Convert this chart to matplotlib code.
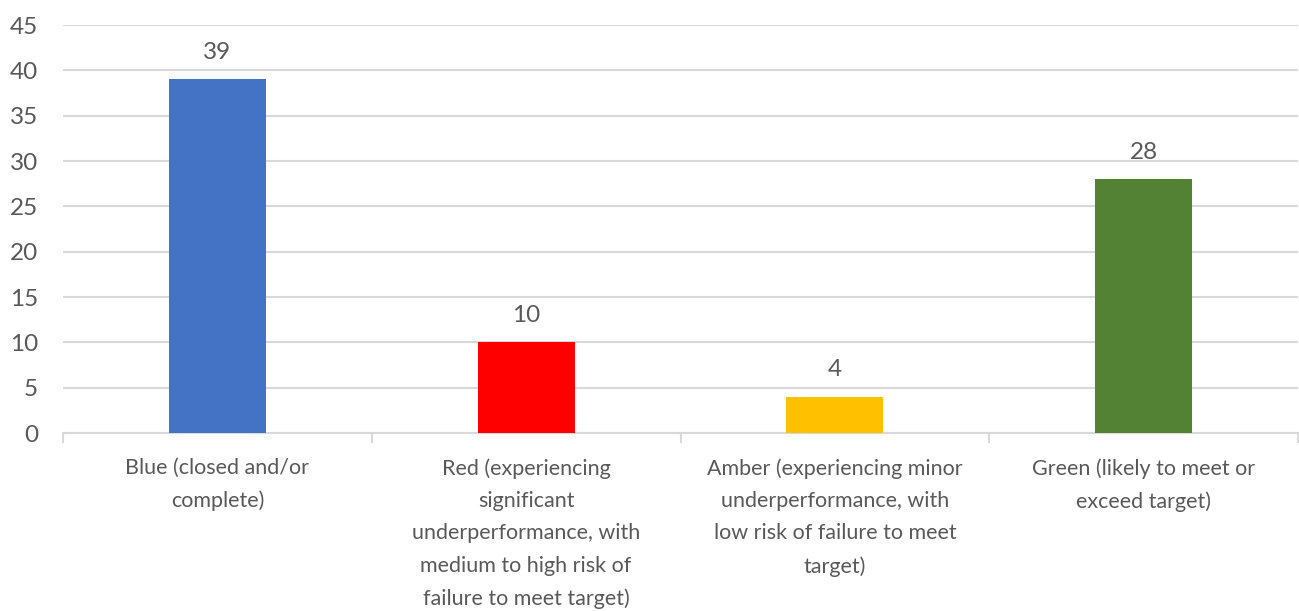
import matplotlib.pyplot as plt
import numpy as np

categories = [
    "Blue (closed and/or\ncomplete)",
    "Red (experiencing\nsignificant\nunderperformance, with\nmedium to high risk of\nfailure to meet target)",
    "Amber (experiencing minor\nunderperformance, with\nlow risk of failure to meet\ntarget)",
    "Green (likely to meet or\nexceed target)",
]
values = [39, 10, 4, 28]
bar_colors = ['#4472C4', '#FF0000', '#FFC000', '#548235']
yticks = np.arange(0, 50, 5)

text_color = '#595959'
grid_color = '#D9D9D9'
plt.rcParams['font.family'] = ['Lato', 'DejaVu Sans']

dpi = 100
fig = plt.figure(figsize=(1299/dpi, 611/dpi), dpi=dpi, facecolor='white')
ax = fig.add_axes([63/1299, 178/611, 1235/1299, 408/611])

x = np.arange(len(values))
ax.bar(x, values, width=0.314, color=bar_colors, zorder=3)

for xi, v in zip(x, values):
    ax.annotate(str(v), (xi, v), xytext=(0, 19.5), textcoords='offset points',
                ha='center', va='center', fontsize=17.5, color=text_color)

ax.set_xlim(-0.5, len(values) - 0.5)
ax.set_ylim(0, 45)
ax.set_yticks(yticks)
ax.set_yticklabels([str(t) for t in yticks], fontsize=17.5, color=text_color)
ax.tick_params(axis='y', length=0, pad=18)
ax.grid(axis='y', color=grid_color, lw=1.5, zorder=0)

# category labels and boundary ticks
ax.set_xticks(x)
ax.set_xticklabels(categories, fontsize=15.5, color=text_color,
                   linespacing=1.77)
ax.tick_params(axis='x', length=0, pad=18)
ax.set_xticks(np.arange(-0.5, len(values)), minor=True)
ax.tick_params(axis='x', which='minor', length=7, width=1.5,
               color=grid_color)

for side in ['top', 'right', 'left']:
    ax.spines[side].set_visible(False)
ax.spines['bottom'].set_color(grid_color)
ax.spines['bottom'].set_linewidth(1.5)

plt.savefig('out.png', dpi=dpi, facecolor='white')
